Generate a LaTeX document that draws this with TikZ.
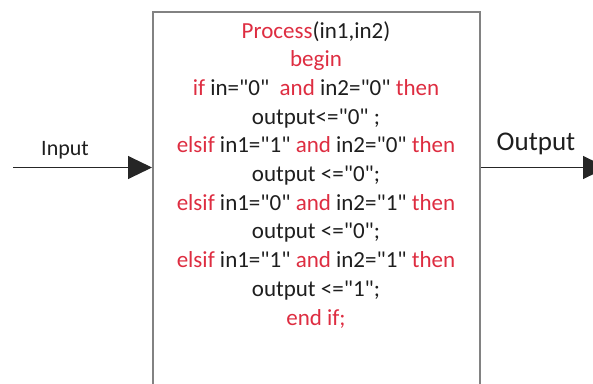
\documentclass[tikz,border=0pt]{standalone}
\usepackage{fontspec}
\setmainfont{Carlito}[Ligatures=TeXOff]
\usetikzlibrary{arrows.meta}
\definecolor{kwred}{RGB}{222,45,65}
\definecolor{txtdark}{RGB}{30,30,30}
\definecolor{boxgray}{RGB}{130,130,130}
\newcommand{\kw}[1]{\textcolor{kwred}{#1}}
\begin{document}
\begin{tikzpicture}[x=1pt,y=-1pt,
  codeline/.style={anchor=base,inner sep=0pt,text=txtdark,font=\fontsize{23}{27}\selectfont},
  lbl/.style={anchor=base,inner sep=0pt,text=txtdark},
  procbox/.style={draw=boxgray,line width=1.5pt,fill=white,anchor=north west,minimum width=327pt,minimum height=390pt,inner sep=0pt},
  flow/.style={draw=black!85,line width=1pt,-{Triangle[length=24pt,width=23pt]}}]
\useasboundingbox (0,0) rectangle (593,383);
\clip (0,0) rectangle (593,383);
\fill[white] (0,0) rectangle (593,383);
\node[procbox] (box) at (152,11) {};
\coordinate (inpt) at (13,167.5);
\coordinate (boxin) at (box.west |- inpt);
\coordinate (boxout) at (box.east |- inpt);
\coordinate (outpt) at (607,167.5);
\draw[flow] (inpt) -- (boxin);
\draw[flow] (boxout) -- (outpt);
\node[lbl,font=\fontsize{22}{26}\selectfont] (inlbl) at (65,155) {Input};
\node[lbl,font=\fontsize{27}{32}\selectfont] (outlbl) at (536,150) {Output};
\node[codeline] (l1) at (316,38) {\kw{Process}(in1,in2)};
\node[codeline] (l2) at (316,66.7) {\kw{begin}};
\node[codeline] (l3) at (316,95.4) {\kw{if} in="0"\ \ \kw{and} in2="0" \kw{then}};
\node[codeline] (l4) at (316,124.1) {output<="0" ;};
\node[codeline] (l5) at (316,152.8) {\kw{elsif} in1="1" \kw{and} in2="0" \kw{then}};
\node[codeline] (l6) at (316,181.5) {output <="0";};
\node[codeline] (l7) at (316,210.2) {\kw{elsif} in1="0" \kw{and} in2="1" \kw{then}};
\node[codeline] (l8) at (316,238.9) {output <="0";};
\node[codeline] (l9) at (316,267.6) {\kw{elsif} in1="1" \kw{and} in2="1" \kw{then}};
\node[codeline] (l10) at (316,296.3) {output <="1";};
\node[codeline] (l11) at (316,325) {\kw{end if;}};
\end{tikzpicture}
\end{document}
